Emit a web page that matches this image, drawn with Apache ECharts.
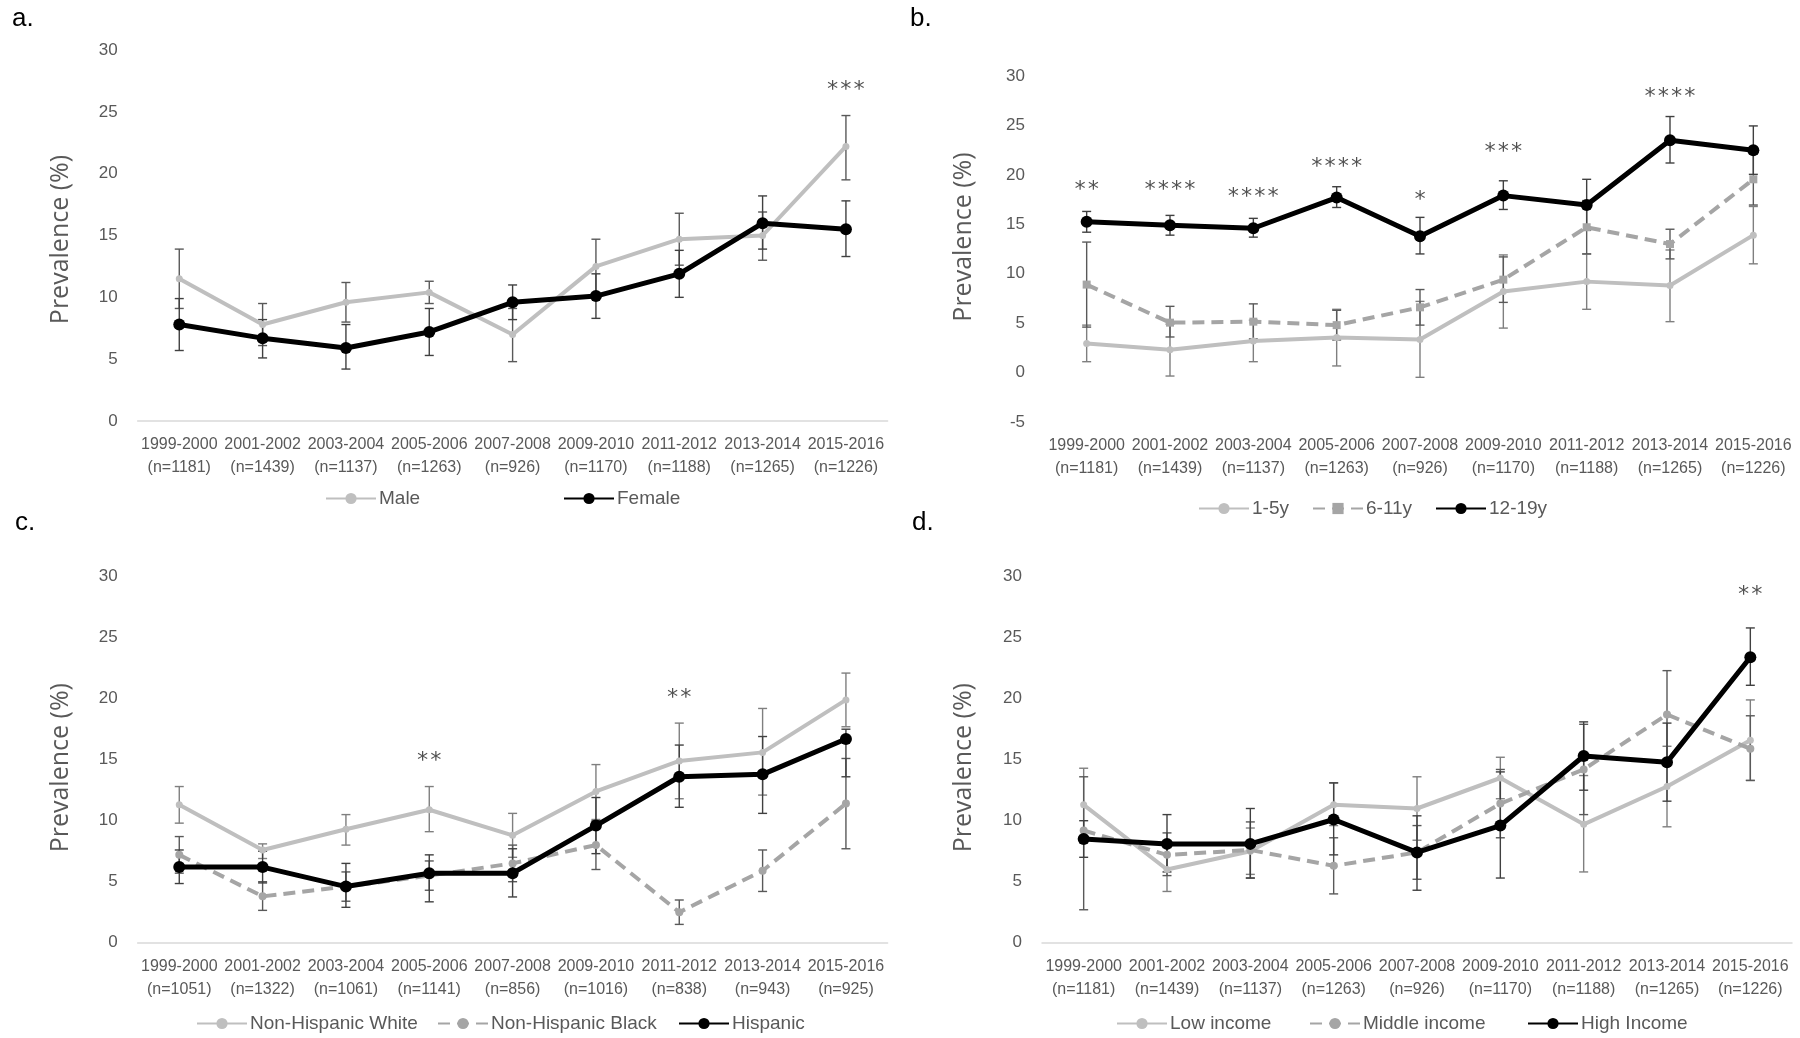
<!DOCTYPE html>
<html>
<head>
<meta charset="utf-8">
<title>Prevalence (%)</title>
<script src="https://cdn.jsdelivr.net/npm/echarts@6/dist/echarts.min.js"></script>
<style>
    html, body { margin: 0; padding: 0; background: #fff; }
    #main { width: 1800px; height: 1038px; }
</style>
</head>
<body>
<div id="main"></div>
<script>
// ciclos NHANES (eje x de los 4 paneles)
var ciclos = ['1999-2000', '2001-2002', '2003-2004', '2005-2006', '2007-2008', '2009-2010', '2011-2012', '2013-2014', '2015-2016'];
var nTotal = ['(n=1181)', '(n=1439)', '(n=1137)', '(n=1263)', '(n=926)', '(n=1170)', '(n=1188)', '(n=1265)', '(n=1226)'];
var nRaza = ['(n=1051)', '(n=1322)', '(n=1061)', '(n=1141)', '(n=856)', '(n=1016)', '(n=838)', '(n=943)', '(n=925)'];
var ticksY = [0, 5, 10, 15, 20, 25, 30];

// a. sexo
var hombre = [11.5, 7.8, 9.6, 10.4, 7.0, 12.5, 14.7, 15.0, 22.2];
var hombreLo = [9.1, 6.1, 8.0, 9.5, 4.8, 10.3, 12.6, 13.0, 19.5];
var hombreHi = [13.9, 9.5, 11.2, 11.3, 9.1, 14.7, 16.8, 16.9, 24.7];
var mujer = [7.8, 6.7, 5.9, 7.2, 9.6, 10.1, 11.9, 16.0, 15.5];
var mujerLo = [5.7, 5.1, 4.2, 5.3, 8.2, 8.3, 10.0, 13.9, 13.3];
var mujerHi = [9.9, 8.2, 7.8, 9.1, 11.0, 11.9, 13.8, 18.2, 17.8];
var estrellasA = [[8, 27.2, '***']];

// b. edad
var edad15 = [2.95, 2.3, 3.2, 3.55, 3.35, 8.2, 9.2, 8.8, 13.9];
var edad15Lo = [1.1, -0.35, 1.1, 0.67, -0.48, 4.5, 6.4, 5.15, 11.0];
var edad15Hi = [4.8, 4.9, 5.3, 6.4, 7.2, 11.9, 12.0, 12.4, 16.8];
var edad611 = [8.9, 5.05, 5.15, 4.8, 6.6, 9.4, 14.7, 13.0, 19.55];
var edad611Lo = [4.6, 3.6, 3.4, 3.3, 4.8, 7.1, 12.0, 11.5, 16.95];
var edad611Hi = [13.2, 6.7, 6.95, 6.3, 8.4, 11.7, 17.4, 14.5, 22.1];
var edad1219 = [15.25, 14.9, 14.6, 17.7, 13.8, 17.9, 16.95, 23.5, 22.5];
var edad1219Lo = [14.2, 13.9, 13.7, 16.7, 12.0, 16.5, 14.4, 21.2, 20.05];
var edad1219Hi = [16.3, 15.9, 15.6, 18.8, 15.7, 19.4, 19.55, 25.9, 24.95];
var estrellasB = [[0, 19.0, '**'], [1, 19.0, '****'], [2, 18.3, '****'], [3, 21.4, '****'], [4, 18.0, '*'], [5, 22.85, '***'], [7, 28.5, '****']];

// c. raza / etnia
var blanco = [11.3, 7.6, 9.3, 10.9, 8.8, 12.4, 14.9, 15.6, 19.9];
var blancoLo = [9.8, 6.9, 8.0, 9.1, 7.0, 10.1, 11.8, 12.1, 17.7];
var blancoHi = [12.8, 8.1, 10.5, 12.8, 10.6, 14.6, 18.0, 19.2, 22.1];
var negro = [7.2, 3.8, 4.6, 5.5, 6.5, 8.0, 2.5, 5.9, 11.4];
var negroLo = [5.7, 2.65, 3.4, 4.3, 5.0, 6.0, 1.5, 4.2, 7.7];
var negroHi = [8.7, 5.0, 5.8, 6.7, 8.0, 10.0, 3.5, 7.6, 15.1];
var hispano = [6.2, 6.2, 4.6, 5.7, 5.7, 9.6, 13.6, 13.8, 16.7];
var hispanoLo = [4.85, 4.9, 2.9, 3.35, 3.75, 7.3, 11.1, 10.6, 13.6];
var hispanoHi = [7.6, 7.5, 6.5, 7.2, 7.7, 11.9, 16.2, 16.9, 17.5];
var estrellasC = [[3, 15.4, '**'], [6, 20.55, '**']];

// d. ingreso
var bajo = [11.3, 6.0, 7.5, 11.3, 11.0, 13.5, 9.7, 12.8, 16.6];
var bajoLo = [8.2, 4.2, 5.6, 9.6, 8.4, 11.8, 5.8, 9.5, 13.3];
var bajoHi = [14.3, 7.8, 9.4, 13.1, 13.6, 15.2, 13.7, 16.1, 19.9];
var medio = [9.2, 7.2, 7.6, 6.3, 7.4, 11.4, 14.2, 18.7, 15.9];
var medioLo = [2.7, 5.5, 5.3, 4.0, 5.2, 8.6, 10.5, 15.0, 13.3];
var medioHi = [13.6, 9.0, 9.9, 8.6, 9.6, 14.2, 17.9, 22.3, 18.6];
var alto = [8.5, 8.1, 8.1, 10.1, 7.4, 9.6, 15.3, 14.8, 23.4];
var altoLo = [7.0, 5.8, 5.3, 7.2, 4.3, 5.3, 12.5, 11.6, 21.1];
var altoHi = [10.0, 10.5, 11.0, 13.1, 10.4, 14.0, 18.1, 18.0, 25.8];
var estrellasD = [[8, 29.0, '**']];

var GRIS_CLARO = '#BFBFBF', GRIS = '#A5A5A5', NEGRO = '#000000', TEXTO = '#595959';
var fuente = 'Liberation Sans, Arial, sans-serif';

var chart = echarts.init(document.getElementById('main'), null, { renderer: 'canvas' });

function barrasError(params, api) { // dibuja la barra de error con sus topes
    var i = api.value(0);
    var p1 = api.coord([i, api.value(1)]);
    var p2 = api.coord([i, api.value(2)]);
    var w = 4.5;
    var st = { stroke: api.visual('color'), lineWidth: 1.4 };
    return {
        type: 'group',
        children: [
            { type: 'line', shape: { x1: p1[0], y1: p1[1], x2: p2[0], y2: p2[1] }, style: st },
            { type: 'line', shape: { x1: p2[0] - w, y1: p2[1], x2: p2[0] + w, y2: p2[1] }, style: st },
            { type: 'line', shape: { x1: p1[0] - w, y1: p1[1], x2: p1[0] + w, y2: p1[1] }, style: st }
        ]
    };
}

function serieError(panel, lo, hi, color) {
    return {
        type: 'custom', xAxisIndex: panel, yAxisIndex: panel, silent: true, z: 1,
        itemStyle: { color: color },
        renderItem: barrasError,
        encode: { x: 0, y: [1, 2] },
        data: lo.map(function (v, k) { return [k, v, hi[k]]; })
    };
}

function serieLinea(panel, nombre, datos, tipo) {
    var estilos = {
        claro: { color: GRIS_CLARO, width: 4, type: 'solid', symbol: 'circle', size: 7 },
        guion: { color: GRIS, width: 4, type: [12, 7], symbol: 'circle', size: 8 },
        cuadro: { color: GRIS, width: 4, type: [12, 7], symbol: 'rect', size: 8 },
        negro: { color: NEGRO, width: 5, type: 'solid', symbol: 'circle', size: 12 }
    };
    var e = estilos[tipo];
    return {
        type: 'line', name: nombre, xAxisIndex: panel, yAxisIndex: panel, z: 3,
        data: datos, symbol: e.symbol, symbolSize: e.size, showSymbol: true,
        lineStyle: { color: e.color, width: e.width, type: e.type },
        itemStyle: { color: e.color, borderWidth: 0 },
        emphasis: { disabled: true }
    };
}

function serieEstrellas(panel, estrellas) {
    return {
        type: 'scatter', xAxisIndex: panel, yAxisIndex: panel, silent: true, z: 4,
        symbolSize: 1, itemStyle: { color: 'rgba(0,0,0,0)' },
        data: estrellas.map(function (e) {
            return { value: [e[0], e[1]], label: { formatter: e[2] } };
        }),
        label: { show: true, position: 'inside', color: '#262626', fontSize: 22, fontFamily: 'DejaVu Sans Mono', offset: [0, 6] }
    };
}

function ejeX(panel, nEtiquetas) {
    return {
        type: 'category', gridIndex: panel, data: ciclos, boundaryGap: true,
        axisLine: { show: panel !== 1, onZero: false, lineStyle: { color: '#D9D9D9', width: 1.5 } },
        axisTick: { show: false },
        axisLabel: {
            interval: 0, margin: 12, color: TEXTO, fontFamily: fuente, fontSize: 16, lineHeight: 23,
            formatter: function (v, k) { return v + '\n' + nEtiquetas[k]; }
        }
    };
}

function ejeY(panel, min, gap, pad) {
    return {
        type: 'value', gridIndex: panel, min: min, max: ticksY[ticksY.length - 1], interval: 5,
        name: 'Prevalence (%)', nameLocation: 'middle', nameGap: gap,
        nameTextStyle: { fontFamily: 'Open Sans', fontSize: 25, color: TEXTO, padding: pad },
        axisLine: { show: false }, axisTick: { show: false }, splitLine: { show: false },
        axisLabel: { margin: 20, color: TEXTO, fontFamily: fuente, fontSize: 17 }
    };
}

function leyenda(nombre, izq, arriba) {
    return {
        data: [nombre], left: izq, top: arriba, padding: 0, itemWidth: 50, itemHeight: 14,
        selectedMode: false,
        textStyle: { color: TEXTO, fontFamily: fuente, fontSize: 19, padding: [0, 0, 0, -2] }
    };
}

function titulo(txt, izq, arriba) {
    return { text: txt, left: izq, top: arriba, padding: 0,
        textStyle: { fontFamily: fuente, fontSize: 26, fontWeight: 'normal', color: '#000' } };
}

var option = {
    backgroundColor: '#fff',
    animation: false,
    title: [titulo('a.', 12, 6), titulo('b.', 910, 6), titulo('c.', 15, 510), titulo('d.', 912, 510)],
    grid: [
        { left: 137.6, top: 50, width: 750, height: 371 },
        { left: 1045, top: 76, width: 750, height: 346 },
        { left: 137.6, top: 576.7, width: 750, height: 366 },
        { left: 1042, top: 576.7, width: 750, height: 366 }
    ],
    xAxis: [ejeX(0, nTotal), ejeX(1, nTotal), ejeX(2, nRaza), ejeX(3, nTotal)],
    yAxis: [ejeY(0, 0, 64, [0, 8, 0, 0]), ejeY(1, -5, 69, [0, 0, 0, 24]), ejeY(2, 0, 64, [0, 16, 0, 0]), ejeY(3, 0, 66, [0, 16, 0, 0])],
    legend: [
        leyenda('Male', 325, 489), leyenda('Female', 563, 489),
        leyenda('1-5y', 1198, 499), leyenda('6-11y', 1312, 499), leyenda('12-19y', 1435, 499),
        leyenda('Non-Hispanic White', 196, 1014), leyenda('Non-Hispanic Black', 437, 1014), leyenda('Hispanic', 678, 1014),
        leyenda('Low income', 1116, 1014), leyenda('Middle income', 1309, 1014), leyenda('High Income', 1527, 1014)
    ],
    series: [
        serieError(0, hombreLo, hombreHi, '#595959'), serieError(0, mujerLo, mujerHi, '#404040'),
        serieLinea(0, 'Male', hombre, 'claro'), serieLinea(0, 'Female', mujer, 'negro'),
        serieEstrellas(0, estrellasA),

        serieError(1, edad15Lo, edad15Hi, '#7F7F7F'), serieError(1, edad611Lo, edad611Hi, '#595959'), serieError(1, edad1219Lo, edad1219Hi, '#404040'),
        serieLinea(1, '1-5y', edad15, 'claro'), serieLinea(1, '6-11y', edad611, 'cuadro'), serieLinea(1, '12-19y', edad1219, 'negro'),
        serieEstrellas(1, estrellasB),

        serieError(2, blancoLo, blancoHi, '#7F7F7F'), serieError(2, negroLo, negroHi, '#595959'), serieError(2, hispanoLo, hispanoHi, '#404040'),
        serieLinea(2, 'Non-Hispanic White', blanco, 'claro'), serieLinea(2, 'Non-Hispanic Black', negro, 'guion'), serieLinea(2, 'Hispanic', hispano, 'negro'),
        serieEstrellas(2, estrellasC),

        serieError(3, bajoLo, bajoHi, '#7F7F7F'), serieError(3, medioLo, medioHi, '#595959'), serieError(3, altoLo, altoHi, '#404040'),
        serieLinea(3, 'Low income', bajo, 'claro'), serieLinea(3, 'Middle income', medio, 'guion'), serieLinea(3, 'High Income', alto, 'negro'),
        serieEstrellas(3, estrellasD)
    ]
};

chart.setOption(option);
</script>
</body>
</html>
